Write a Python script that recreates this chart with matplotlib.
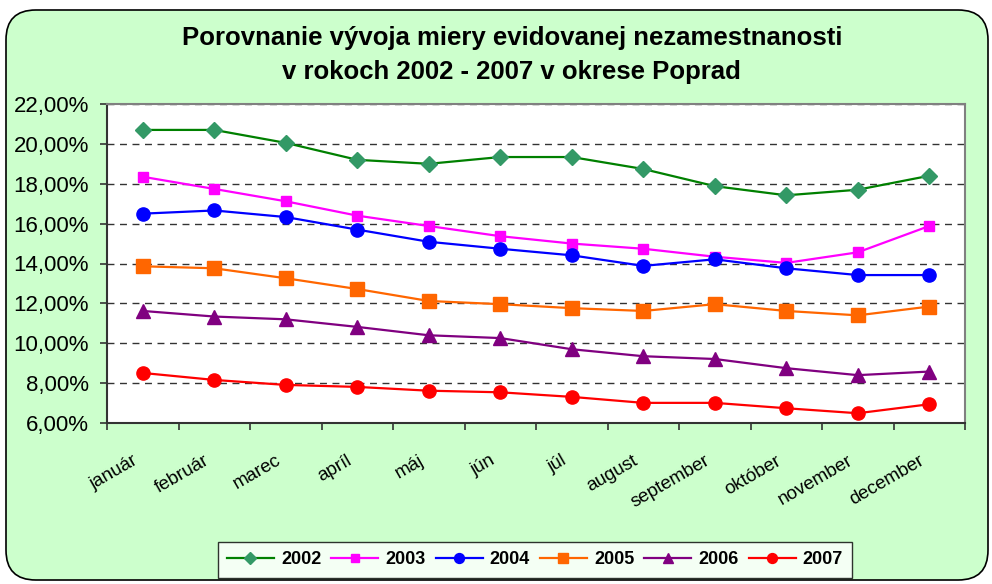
import matplotlib
matplotlib.use("Agg")
import matplotlib.pyplot as plt
from matplotlib.patches import FancyBboxPatch
from matplotlib.ticker import FuncFormatter, FixedLocator

plt.rcParams['font.family'] = ['Liberation Sans', 'DejaVu Sans']

months = ["január", "február", "marec", "apríl", "máj", "jún", "júl",
          "august", "september", "október", "november", "december"]
years = ["2002", "2003", "2004", "2005", "2006", "2007"]

v2002 = [20.70, 20.70, 20.05, 19.20, 19.00, 19.34, 19.34, 18.74, 17.88, 17.42, 17.70, 18.40]
v2003 = [18.35, 17.74, 17.12, 16.40, 15.88, 15.37, 15.00, 14.74, 14.34, 14.03, 14.56, 15.88]
v2004 = [16.50, 16.66, 16.33, 15.70, 15.09, 14.74, 14.41, 13.88, 14.21, 13.76, 13.42, 13.42]
v2005 = [13.86, 13.76, 13.26, 12.72, 12.12, 11.96, 11.76, 11.62, 11.96, 11.62, 11.40, 11.84]
v2006 = [11.62, 11.34, 11.20, 10.82, 10.40, 10.26, 9.70, 9.35, 9.21, 8.75, 8.40, 8.58]
v2007 = [8.51, 8.16, 7.91, 7.81, 7.62, 7.54, 7.31, 7.01, 7.01, 6.74, 6.49, 6.94]

series = [v2002, v2003, v2004, v2005, v2006, v2007]
line_colors = ["#008000", "#FF00FF", "#0000FF", "#FF6600", "#800080", "#FF0000"]
marker_colors = ["#339966", "#FF00FF", "#0000FF", "#FF6600", "#800080", "#FF0000"]
markers = ["D", "s", "o", "s", "^", "o"]
msizes = [8.5, 7.5, 9.5, 9.5, 10, 9.5]

fig = plt.figure(figsize=(9.92, 5.84), dpi=100)
fig.patch.set_facecolor("white")
bg = FancyBboxPatch((6/992, 4/584), 982/992, 570/584,
                    boxstyle="round,pad=0,rounding_size=0.03",
                    transform=fig.transFigure, facecolor="#CCFFCC",
                    edgecolor="black", linewidth=1.2, mutation_aspect=992/584,
                    zorder=-10)
fig.patches.append(bg)

ax = fig.add_axes([107/992, 1 - 423/584, (965 - 107)/992, (423 - 104)/584])
ax.set_facecolor("white")

x = list(range(len(months)))
for vals, lc, mc, mk, ms, yr in zip(series, line_colors, marker_colors, markers, msizes, years):
    ax.plot(x, vals, color=lc, linewidth=1.6, marker=mk, markersize=ms,
            markerfacecolor=mc, markeredgecolor=mc, label=yr, zorder=3)

ax.set_xlim(-0.5, len(months) - 0.5)
ax.set_ylim(6, 22)
ax.set_yticks([6, 8, 10, 12, 14, 16, 18, 20, 22])
ax.yaxis.set_major_formatter(FuncFormatter(lambda v, p: f"{v:.2f}".replace(".", ",") + "%"))
ax.yaxis.grid(True, linestyle=(0, (5, 4)), color="#333333", linewidth=1.0)
ax.set_axisbelow(True)

# category boundaries get tick marks; labels sit slightly left of centres (Excel style)
ax.xaxis.set_major_locator(FixedLocator([i - 0.5 for i in range(len(months) + 1)]))
ax.xaxis.set_major_formatter(FuncFormatter(lambda v, p: ""))
ax.xaxis.set_minor_locator(FixedLocator([i - 0.15 for i in x]))
ax.set_xticklabels(months, minor=True)
ax.tick_params(axis="x", which="minor", length=0, pad=21)
ax.tick_params(axis="x", which="major", length=5, width=1.2, color="#333333")
ax.tick_params(axis="y", length=5, width=1.2, color="#333333", labelsize=16, pad=8)
for lab in ax.get_xticklabels(minor=True):
    lab.set_rotation(30)
    lab.set_ha("right")
    lab.set_va("top")
    lab.set_rotation_mode("anchor")
    lab.set_fontsize(13.5)

for s in ["top", "right"]:
    ax.spines[s].set_color("#808080")
    ax.spines[s].set_linewidth(1.5)
for s in ["left", "bottom"]:
    ax.spines[s].set_color("#333333")
    ax.spines[s].set_linewidth(1.5)

fig.text(0.516, 1 - 38/584, "Porovnanie vývoja miery evidovanej nezamestnanosti",
         ha="center", va="center", fontsize=18.5, fontweight="bold")
fig.text(0.516, 1 - 72/584, "v rokoch 2002 - 2007 v okrese Poprad",
         ha="center", va="center", fontsize=18.5, fontweight="bold")

leg = fig.legend(loc="center", bbox_to_anchor=(535/992, 1 - 560/584), ncol=6,
                 frameon=True, fancybox=False, edgecolor="black",
                 prop={"weight": "bold", "size": 13}, handlelength=2.6,
                 handletextpad=0.4, columnspacing=0.55, borderpad=0.5,
                 markerscale=0.75)
leg.get_frame().set_linewidth(1.0)
leg.get_frame().set_facecolor("white")

fig.savefig("out.png", dpi=100, facecolor=fig.get_facecolor())
